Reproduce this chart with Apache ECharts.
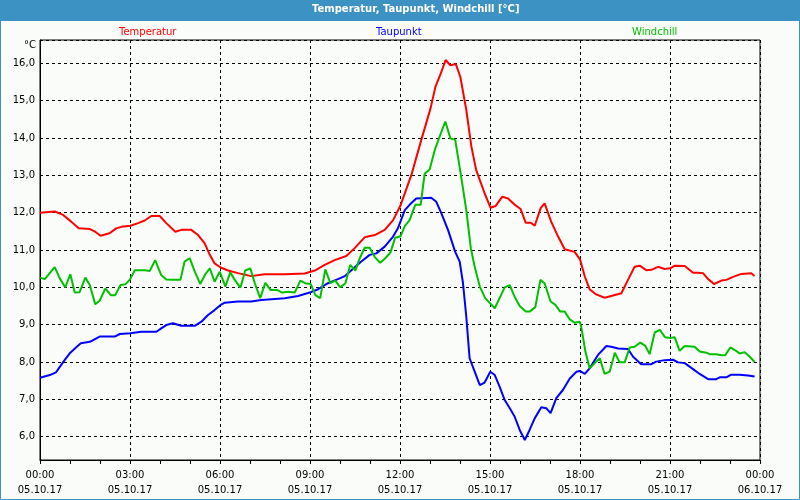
<!DOCTYPE html>
<html>
<head>
<meta charset="utf-8">
<script src="https://cdn.jsdelivr.net/npm/echarts@6/dist/echarts.min.js"></script>
<style>
html,body{margin:0;padding:0;background:#FAFCFA;}
#chart{width:800px;height:500px;}
</style>
</head>
<body>
<div id="chart"></div>
<script>
// ---- data (hours since 05.10.17 00:00, °C) ----
var titleText = 'Temperatur, Taupunkt, Windchill [°C]';
var seriesNames = ['Temperatur', 'Taupunkt', 'Windchill'];
var xTickHours = [0, 3, 6, 9, 12, 15, 18, 21, 24];
var xTickTimes = ['00:00', '03:00', '06:00', '09:00', '12:00', '15:00', '18:00', '21:00', '00:00'];
var xTickDates = ['05.10.17', '05.10.17', '05.10.17', '05.10.17', '05.10.17', '05.10.17', '05.10.17', '05.10.17', '06.10.17'];

var tempHours = [0,0.49,0.77,1.04,1.29,1.66,1.84,2.02,2.32,2.54,2.71,3.01,3.27,3.49,3.71,3.99,4.21,4.51,4.71,5.04,5.27,5.49,5.66,5.82,6.02,6.27,6.6,7.04,7.49,8.16,8.82,9.16,9.49,9.82,10.21,10.49,10.82,11.16,11.49,11.77,12.02,12.38,12.71,13.02,13.18,13.36,13.52,13.68,13.86,14.01,14.21,14.38,14.54,14.82,15.02,15.19,15.41,15.6,15.8,16.02,16.19,16.36,16.49,16.69,16.82,17.04,17.27,17.49,17.82,18.0,18.16,18.32,18.54,18.82,19.04,19.38,19.6,19.82,19.99,20.21,20.38,20.6,20.82,21.01,21.16,21.49,21.77,21.93,22.1,22.27,22.47,22.71,22.88,23.1,23.38,23.71,23.82];
var tempValues = [12.00,12.03,11.94,11.76,11.58,11.56,11.49,11.38,11.45,11.58,11.62,11.65,11.72,11.79,11.91,11.91,11.72,11.49,11.54,11.54,11.40,11.18,10.87,10.64,10.53,10.45,10.38,10.30,10.35,10.35,10.37,10.45,10.60,10.73,10.84,11.05,11.34,11.40,11.54,11.80,12.20,13.01,13.95,14.80,15.37,15.73,16.09,15.95,15.98,15.64,14.75,13.77,13.14,12.52,12.13,12.18,12.43,12.38,12.23,12.10,11.73,11.73,11.65,12.12,12.25,11.76,11.36,11.02,10.95,10.75,10.29,9.95,9.81,9.72,9.77,9.84,10.20,10.55,10.58,10.46,10.47,10.55,10.49,10.51,10.58,10.57,10.39,10.39,10.38,10.22,10.09,10.18,10.20,10.28,10.36,10.38,10.30];

var dewHours = [0,0.33,0.53,0.66,0.82,1.01,1.19,1.36,1.66,1.99,2.49,2.66,3.01,3.38,3.88,4.04,4.21,4.43,4.71,5.16,5.38,5.6,5.82,6.02,6.16,6.6,7.04,7.38,8.16,8.6,8.99,9.27,9.6,9.93,10.16,10.38,10.71,10.99,11.21,11.49,11.77,11.93,12.16,12.32,12.54,13.04,13.21,13.38,13.6,13.84,13.99,14.1,14.21,14.32,14.49,14.66,14.82,15.01,15.16,15.32,15.49,15.66,15.82,15.99,16.16,16.32,16.49,16.71,16.88,17.02,17.21,17.43,17.66,17.88,17.99,18.16,18.32,18.6,18.88,19.04,19.27,19.6,19.77,20.04,20.38,20.54,20.82,21.1,21.27,21.49,21.77,21.99,22.27,22.54,22.66,22.88,23.04,23.32,23.6,23.82];
var dewValues = [7.58,7.65,7.72,7.87,8.05,8.25,8.38,8.50,8.54,8.68,8.68,8.75,8.77,8.81,8.81,8.90,8.99,9.04,8.97,8.97,9.08,9.26,9.39,9.53,9.59,9.62,9.62,9.66,9.71,9.77,9.86,9.95,10.11,10.22,10.30,10.46,10.69,10.87,10.91,11.09,11.36,11.58,12.07,12.21,12.38,12.40,12.29,11.98,11.54,10.95,10.69,10.11,9.21,8.10,7.74,7.38,7.45,7.74,7.65,7.34,6.98,6.76,6.54,6.18,5.91,6.18,6.49,6.79,6.76,6.63,7.03,7.25,7.56,7.74,7.76,7.68,7.83,8.19,8.43,8.41,8.36,8.35,8.14,7.94,7.94,8.01,8.05,8.06,7.99,7.97,7.81,7.68,7.54,7.54,7.59,7.59,7.66,7.66,7.64,7.61];

var chillHours = [0,0.16,0.49,0.66,0.84,1.01,1.16,1.32,1.51,1.66,1.84,1.99,2.18,2.36,2.51,2.68,2.84,2.99,3.16,3.49,3.66,3.84,4.04,4.21,4.38,4.68,4.82,4.99,5.16,5.34,5.51,5.66,5.82,5.99,6.18,6.34,6.51,6.68,6.84,7.01,7.16,7.34,7.51,7.68,7.9,8.07,8.27,8.49,8.68,8.84,9.02,9.18,9.34,9.51,9.68,9.84,10.01,10.18,10.34,10.51,10.66,10.82,10.99,11.16,11.34,11.51,11.68,11.84,12.02,12.16,12.32,12.51,12.69,12.82,12.99,13.16,13.34,13.51,13.68,13.84,14.04,14.21,14.36,14.49,14.66,14.84,15.16,15.32,15.49,15.66,15.82,15.99,16.19,16.32,16.51,16.68,16.82,17.02,17.18,17.34,17.49,17.66,17.82,17.99,18.04,18.18,18.32,18.49,18.66,18.82,18.99,19.16,19.32,19.49,19.66,19.82,20.01,20.18,20.32,20.49,20.66,20.84,21.01,21.16,21.32,21.49,21.82,21.99,22.21,22.32,22.54,22.71,22.84,23.01,23.16,23.32,23.49,23.66,23.82];
var chillValues = [10.26,10.22,10.54,10.24,10.00,10.35,9.86,9.87,10.26,10.06,9.55,9.64,9.97,9.79,9.79,10.06,10.08,10.20,10.46,10.46,10.44,10.73,10.33,10.21,10.20,10.20,10.69,10.78,10.42,10.09,10.35,10.51,10.15,10.42,10.02,10.40,10.18,9.99,10.45,10.51,10.11,9.71,10.12,9.93,9.93,9.86,9.88,9.86,10.18,10.11,10.09,9.79,9.71,10.48,10.11,10.18,10.00,10.11,10.60,10.45,10.78,11.06,11.06,10.81,10.66,10.78,10.93,11.33,11.37,11.64,11.80,12.21,12.21,13.04,13.16,13.68,14.08,14.44,13.99,13.95,12.96,12.07,11.05,10.55,10.02,9.71,9.44,9.71,10.00,10.06,9.75,9.50,9.35,9.35,9.47,10.20,10.11,9.62,9.53,9.35,9.35,9.14,9.05,9.08,8.95,8.28,7.83,7.97,8.10,7.68,7.74,8.25,7.99,7.99,8.39,8.41,8.52,8.43,8.21,8.79,8.86,8.66,8.64,8.66,8.30,8.43,8.41,8.28,8.25,8.21,8.21,8.18,8.18,8.39,8.32,8.23,8.26,8.14,8.00];

function pairs(hs, vs) { return hs.map(function (h, i) { return [h, vs[i]]; }); }

var FONT = 'DejaVu Sans';
var chart = echarts.init(document.getElementById('chart'), null, {renderer: 'canvas'});

var option = {
  animation: false,
  backgroundColor: '#FAFCFA',
  title: {
    text: titleText,
    left: 312, top: 4, padding: 0,
    textStyle: {color: '#FFFFFF', fontSize: 10, fontWeight: 'bold', fontFamily: FONT}
  },
  legend: [
    {data: [seriesNames[0]], left: 114, top: 25, padding: 0, icon: 'none', itemWidth: 0, itemHeight: 14, selectedMode: false,
     textStyle: {color: '#FF0000', fontSize: 10, fontFamily: FONT}},
    {data: [seriesNames[1]], left: 371, top: 25, padding: 0, icon: 'none', itemWidth: 0, itemHeight: 14, selectedMode: false,
     textStyle: {color: '#0000FF', fontSize: 10, fontFamily: FONT}},
    {data: [seriesNames[2]], left: 627, top: 25, padding: 0, icon: 'none', itemWidth: 0, itemHeight: 14, selectedMode: false,
     textStyle: {color: '#00C000', fontSize: 10, fontFamily: FONT}}
  ],
  graphic: [
    {type: 'rect', shape: {x: 0, y: 0, width: 800, height: 21}, style: {fill: '#3D92C4'}, z: -10, silent: true},
    {type: 'rect', shape: {x: 0.5, y: 0.5, width: 799, height: 499}, style: {fill: null, stroke: '#3D92C4', lineWidth: 1}, z: 100, silent: true}
  ],
  grid: {
    left: 40, top: 40, width: 720, height: 420,
    show: true, backgroundColor: '#FAFCFA', borderColor: '#000', borderWidth: 1
  },
  xAxis: {
    type: 'value', min: 0, max: 24, interval: 3,
    axisLine: {show: true, lineStyle: {color: '#000', width: 1}},
    axisTick: {show: true, length: 4, lineStyle: {color: '#000'}},
    minorTick: {show: true, splitNumber: 3, length: 4, lineStyle: {color: '#000'}},
    splitLine: {show: true, lineStyle: {color: '#000', type: [3, 3], width: 1}},
    axisLabel: {
      margin: 8, color: '#000', fontSize: 10, fontFamily: FONT, lineHeight: 15,
      showMinLabel: true, showMaxLabel: true,
      formatter: function (v) {
        var i = xTickHours.indexOf(Math.round(v));
        return i < 0 ? '' : xTickTimes[i] + '\n' + xTickDates[i];
      }
    }
  },
  yAxis: {
    type: 'value', min: 5.375, max: 16.625, splitNumber: 11,
    name: '°C', nameLocation: 'end', nameGap: -5,
    nameTextStyle: {color: '#000', fontSize: 10, fontFamily: FONT, align: 'right', verticalAlign: 'middle', padding: [0, 4, 0, 0]},
    axisLine: {show: true, lineStyle: {color: '#000', width: 1}},
    axisTick: {show: false},
    splitLine: {show: true, lineStyle: {color: '#000', type: [3, 3], width: 1}},
    axisLabel: {
      margin: 5, color: '#000', fontSize: 10, fontFamily: FONT,
      showMinLabel: false, showMaxLabel: false,
      formatter: function (v) {
        if (Math.abs(v - Math.round(v)) > 1e-6) return '';
        return v.toFixed(1).replace('.', ',');
      }
    }
  },
  series: [
    {name: seriesNames[0], type: 'line', data: pairs(tempHours, tempValues), showSymbol: false, symbol: 'none',
     lineStyle: {color: '#FF0000', width: 2}, itemStyle: {color: '#FF0000'}},
    {name: seriesNames[1], type: 'line', data: pairs(dewHours, dewValues), showSymbol: false, symbol: 'none',
     lineStyle: {color: '#0000FF', width: 2}, itemStyle: {color: '#0000FF'}},
    {name: seriesNames[2], type: 'line', data: pairs(chillHours, chillValues), showSymbol: false, symbol: 'none',
     lineStyle: {color: '#00C000', width: 2}, itemStyle: {color: '#00C000'}}
  ]
};
chart.setOption(option);
</script>
</body>
</html>
